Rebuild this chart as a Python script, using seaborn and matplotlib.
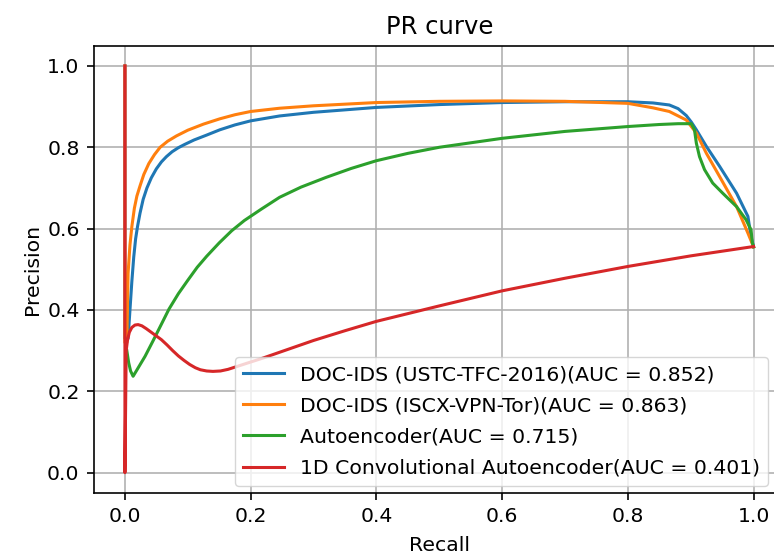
import matplotlib
matplotlib.use("Agg")
import matplotlib.pyplot as plt
import seaborn as sns
import pandas as pd

# ---- data ----
labels = [
    "DOC-IDS (USTC-TFC-2016)(AUC = 0.852)",
    "DOC-IDS (ISCX-VPN-Tor)(AUC = 0.863)",
    "Autoencoder(AUC = 0.715)",
    "1D Convolutional Autoencoder(AUC = 0.401)",
]

blue_r = [0.0, 0.0, 0.005, 0.008, 0.011, 0.014, 0.017, 0.02, 0.024, 0.029, 0.035, 0.042, 0.05, 0.058, 0.066,
          0.075, 0.085, 0.095, 0.11, 0.13, 0.151, 0.175, 0.2, 0.246, 0.3, 0.4, 0.5, 0.6, 0.7, 0.8, 0.84,
          0.866, 0.88, 0.893, 0.901, 0.909, 0.925, 0.946, 0.973, 0.991, 0.996, 1.0]
blue_p = [1.0, 0.33, 0.33, 0.40, 0.47, 0.53, 0.575, 0.605, 0.638, 0.672, 0.70, 0.725, 0.747, 0.764, 0.777,
          0.789, 0.799, 0.807, 0.818, 0.83, 0.843, 0.855, 0.865, 0.877, 0.886, 0.898, 0.905, 0.910, 0.912,
          0.912, 0.909, 0.904, 0.895, 0.878, 0.862, 0.843, 0.802, 0.753, 0.687, 0.63, 0.58, 0.556]

orange_r = [0.0, 0.0, 0.003, 0.005, 0.008, 0.011, 0.015, 0.019, 0.024, 0.03, 0.038, 0.047, 0.056, 0.068,
            0.082, 0.1, 0.125, 0.151, 0.175, 0.2, 0.246, 0.3, 0.4, 0.5, 0.6, 0.7, 0.8, 0.84, 0.866, 0.893,
            0.909, 0.925, 0.946, 0.973, 0.991, 1.0]
orange_p = [1.0, 0.32, 0.32, 0.49, 0.56, 0.605, 0.65, 0.68, 0.705, 0.733, 0.76, 0.782, 0.80, 0.815,
            0.828, 0.842, 0.857, 0.87, 0.88, 0.888, 0.896, 0.902, 0.910, 0.913, 0.914, 0.913, 0.908, 0.897,
            0.888, 0.867, 0.835, 0.785, 0.728, 0.654, 0.589, 0.555]

green_r = [0.003, 0.006, 0.009, 0.013, 0.02, 0.032, 0.045, 0.058, 0.07, 0.085, 0.1, 0.115, 0.13, 0.15, 0.17,
           0.19, 0.217, 0.246, 0.28, 0.32, 0.36, 0.4, 0.45, 0.5, 0.6, 0.7, 0.8, 0.85, 0.88, 0.901, 0.906,
           0.909, 0.914, 0.922, 0.935, 0.951, 0.973, 0.988, 0.996, 0.998, 1.0]
green_p = [0.30, 0.27, 0.25, 0.237, 0.255, 0.286, 0.325, 0.365, 0.402, 0.44, 0.473, 0.505, 0.532, 0.565,
           0.595, 0.62, 0.648, 0.677, 0.702, 0.726, 0.748, 0.767, 0.785, 0.80, 0.822, 0.839, 0.851, 0.856,
           0.858, 0.858, 0.843, 0.81, 0.777, 0.745, 0.712, 0.687, 0.654, 0.622, 0.597, 0.565, 0.555]

red_r = [0.0, 0.0, 0.002, 0.004, 0.007, 0.011, 0.016, 0.021, 0.027, 0.034, 0.042, 0.05, 0.058, 0.067, 0.076,
         0.085, 0.094, 0.103, 0.112, 0.12, 0.13, 0.14, 0.152, 0.164, 0.18, 0.2, 0.22, 0.246, 0.3, 0.35, 0.4,
         0.5, 0.6, 0.7, 0.8, 0.9, 1.0]
red_p = [1.0, 0.0, 0.30, 0.325, 0.345, 0.357, 0.363, 0.364, 0.361, 0.354, 0.345, 0.336, 0.327, 0.314, 0.30,
         0.287, 0.276, 0.266, 0.258, 0.253, 0.25, 0.249, 0.25, 0.254, 0.262, 0.272, 0.282, 0.296, 0.325, 0.349,
         0.372, 0.41, 0.447, 0.478, 0.507, 0.533, 0.556]

x_ticks = [0.0, 0.2, 0.4, 0.6, 0.8, 1.0]
y_ticks = [0.0, 0.2, 0.4, 0.6, 0.8, 1.0]

series = [(labels[0], blue_r, blue_p), (labels[1], orange_r, orange_p),
          (labels[2], green_r, green_p), (labels[3], red_r, red_p)]
frames = []
for name, r, p in series:
    frames.append(pd.DataFrame({"Recall": r, "Precision": p, "model": name}))
df = pd.concat(frames, ignore_index=True)

# ---- style ----
fs = 14.7
plt.rcParams.update({
    "font.family": ["DejaVu Sans"],
    "font.size": fs,
    "axes.linewidth": 1.18,
    "xtick.major.width": 1.18,
    "ytick.major.width": 1.18,
    "xtick.major.size": 5.0,
    "ytick.major.size": 5.0,
    "xtick.major.pad": 5.0,
    "ytick.major.pad": 5.0,
})

W, H = 774, 558
fig = plt.figure(figsize=(W / 100, H / 100), dpi=100)
left, right, top, bottom = 93.5, 785.0, 45.6, 493.0
ax = fig.add_axes([left / W, 1 - bottom / H, (right - left) / W, (bottom - top) / H])

palette = ["#1f77b4", "#ff7f0e", "#2ca02c", "#d62728"]
sns.lineplot(data=df, x="Recall", y="Precision", hue="model", hue_order=labels,
             palette=palette, sort=False, estimator=None, units="model",
             linewidth=2.2, ax=ax, legend=True)

ax.set_xlim(-0.05, 1.05)
ax.set_ylim(-0.05, 1.05)
ax.set_xticks(x_ticks)
ax.set_yticks(y_ticks)
ax.set_xticklabels([f"{v:.1f}" for v in x_ticks], fontsize=fs)
ax.set_yticklabels([f"{v:.1f}" for v in y_ticks], fontsize=fs)
ax.grid(True, color="#b0b0b0", linewidth=1.18)
ax.set_axisbelow(True)
ax.set_xlabel("Recall", fontsize=fs, labelpad=7)
ax.set_ylabel("Precision", fontsize=fs)
ax.set_title("PR curve", fontsize=17.5, pad=8)

handles, lbls = ax.get_legend_handles_labels()
leg_right = (768 - left) / (right - left)
leg_bottom = (bottom - 486) / (bottom - top)
ax.legend(handles, lbls, loc="lower right", fontsize=fs, title=None, labelspacing=0.6,
          bbox_to_anchor=(leg_right, leg_bottom), borderaxespad=0)

fig.savefig("out.png", dpi=100)
